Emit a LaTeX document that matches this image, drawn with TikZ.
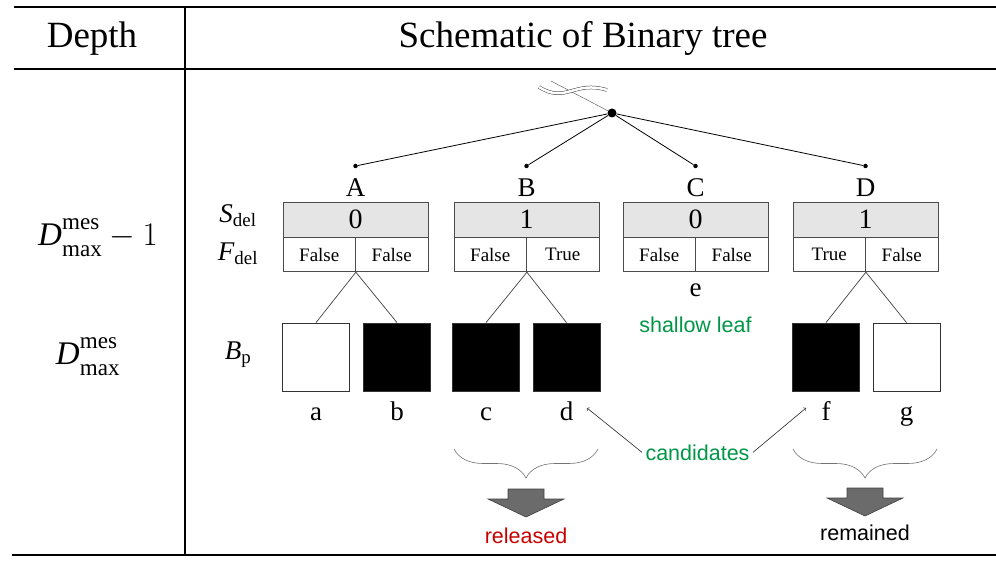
\documentclass[tikz,border=0pt]{standalone}
\usepackage{fix-cm}
\usepackage{fontspec}
\setmainfont{Liberation Serif}
\setsansfont{Liberation Sans}
\usetikzlibrary{decorations.pathreplacing}
\definecolor{leafgreen}{RGB}{0,150,70}
\definecolor{relred}{RGB}{200,0,0}
\newcommand{\dmesmax}{\mathit{D}^{\raisebox{4pt}{$\scriptstyle\mathrm{mes}$}}_{\raisebox{-3pt}{$\scriptstyle\mathrm{max}$}}}
\begin{document}
\begin{tikzpicture}[x=1pt,y=-1pt]
          \tikzstyle{rule}=[draw=black,line width=1.3pt]
          \tikzstyle{head}=[font=\fontsize{37}{40}\selectfont]
          \tikzstyle{depth}=[font=\fontsize{33}{36}\selectfont]
          \tikzstyle{lbl}=[font=\fontsize{27}{30}\selectfont]
          \tikzstyle{note}=[font=\sffamily\fontsize{21.5}{24}\selectfont]
          \tikzstyle{dot}=[circle,fill=black,inner sep=0pt,minimum size=4.5pt]
          \tikzstyle{root}=[circle,fill=black,inner sep=0pt,minimum size=9pt]
          \tikzstyle{tree}=[draw=black,line width=0.8pt]
          \tikzstyle{twig}=[draw=black!75,line width=0.7pt]
          \tikzstyle{scell}=[draw=black!70,fill=black!10,line width=0.8pt,minimum width=145pt,minimum height=35pt,inner sep=0pt,font=\fontsize{28}{30}\selectfont]
          \tikzstyle{fcell}=[draw=black!70,line width=0.8pt,minimum width=72.5pt,minimum height=34pt,inner sep=0pt,font=\fontsize{19}{21}\selectfont]
          \tikzstyle{leaf}=[draw=black!80,line width=0.8pt,minimum width=67pt,minimum height=68pt,inner sep=0pt]
          \tikzstyle{pointer}=[draw=black!85,line width=0.6pt,->]
          \tikzstyle{brace}=[draw=black!55,line width=0.6pt,decorate,decoration={brace,mirror,amplitude=29pt}]
          \tikzstyle{bigarrow}=[fill=black!58,draw=black!75,line width=0.6pt]
          \useasboundingbox (0,0) rectangle (996,561);
          \draw[rule,line width=2pt] (14,7) -- (996,7);
          \draw[rule] (14,69) -- (996,69);
          \draw[rule] (12,555) -- (996,555);
          \draw[rule] (185,7) -- (185,555);
          \node[head,anchor=base] (hdepth) at (92,48) {Depth};
          \node[head,anchor=base] (hschem) at (583,48) {Schematic of Binary tree};
          \node[depth] (dm1) at (98,238) {$\dmesmax-1$};
          \node[depth] (dm) at (88,357) {$\dmesmax$};
          \begin{scope}
             \node[root] (r) at (612,113) {};
             \draw[black!60,line width=0.5pt] (551,81) -- (r);
             \draw[black!75,double,double distance=2.5pt,line width=0.5pt] (539,87) .. controls (566,104) and (574,80) .. (607,90);
             \node[dot] (nA) at (355.5,166) {};
             \node[dot] (nB) at (526.5,166) {};
             \node[dot] (nC) at (695.5,166) {};
             \node[dot] (nD) at (865.5,166) {};
             \path[tree] (r) -- (nA);
             \path[tree] (r) -- (nB);
             \path[tree] (r) -- (nC);
             \path[tree] (r) -- (nD);
             \node[lbl,anchor=base] (lA) at (355.5,197) {A};
             \node[lbl,anchor=base] (lB) at (526.5,197) {B};
             \node[lbl,anchor=base] (lC) at (695.5,197) {C};
             \node[lbl,anchor=base] (lD) at (865.5,197) {D};
             \node[scell] (sA) at (355.5,219.5) {0};
             \node[scell] (sB) at (526.5,219.5) {1};
             \node[scell] (sC) at (695.5,219.5) {0};
             \node[scell] (sD) at (865.5,219.5) {1};
             \node[fcell,anchor=north west] (fA1) at (sA.south west) {False};
             \node[fcell,anchor=north east] (fA2) at (sA.south east) {False};
             \node[fcell,anchor=north west] (fB1) at (sB.south west) {False};
             \node[fcell,anchor=north east] (fB2) at (sB.south east) {True};
             \node[fcell,anchor=north west] (fC1) at (sC.south west) {False};
             \node[fcell,anchor=north east] (fC2) at (sC.south east) {False};
             \node[fcell,anchor=north west] (fD1) at (sD.south west) {True};
             \node[fcell,anchor=north east] (fD2) at (sD.south east) {False};
             \node[lbl] (sdel) at (238,216) {$\mathit{S}_{\mathrm{del}}$};
             \node[lbl] (fdel) at (238,254) {$\mathit{F}_{\mathrm{del}}$};
             \node[lbl] (bp) at (238,355) {$\mathit{B}_{\mathrm{p}}$};
             \node[leaf] (a) at (316,357) {};
             \node[leaf,fill=black] (b) at (397,357) {};
             \node[leaf,fill=black] (c) at (486,357) {};
             \node[leaf,fill=black] (d) at (566.5,357) {};
             \node[leaf,fill=black] (f) at (826,357) {};
             \node[leaf] (g) at (906.5,357) {};
             \path[twig] (fA1.south east) -- (a.north);
             \path[twig] (fA1.south east) -- (b.north);
             \path[twig] (fB1.south east) -- (c.north);
             \path[twig] (fB1.south east) -- (d.north);
             \path[twig] (fD1.south east) -- (f.north);
             \path[twig] (fD1.south east) -- (g.north);
             \node[lbl,anchor=base] (la) at (316,420) {a};
             \node[lbl,anchor=base] (lb) at (397,420) {b};
             \node[lbl,anchor=base] (lc) at (486,420) {c};
             \node[lbl,anchor=base] (ld) at (566.5,420) {d};
             \node[lbl,anchor=base] (lf) at (826,420) {f};
             \node[lbl,anchor=base] (lg) at (906.5,420) {g};
             \node[lbl,anchor=base] (le) at (695.5,297) {e};
             \node[note,anchor=base,text=leafgreen] (shallow) at (695.5,333) {shallow leaf};
             \node[note,anchor=base,text=leafgreen] (cand) at (697.5,460) {candidates};
             \coordinate (pd) at (587,408);
             \coordinate (pf) at (806,408);
             \path[pointer] (cand.west) -- (pd);
             \path[pointer] (cand.east) -- (pf);
          \end{scope}
          \draw[brace] (454,449) -- (598,449);
          \draw[brace] (793,449) -- (937,449);
          \filldraw[bigarrow] (508,489) -- (544,489) -- (544,499) -- (564,499) -- (526,517) -- (488,499) -- (508,499) -- cycle;
          \filldraw[bigarrow] (847,488) -- (883,488) -- (883,498) -- (903,498) -- (865,516) -- (827,498) -- (847,498) -- cycle;
          \node[note,anchor=base,text=relred] (rel) at (526,543) {released};
          \node[note,anchor=base] (rem) at (865,540) {remained};
        \end{tikzpicture}
\end{document}
